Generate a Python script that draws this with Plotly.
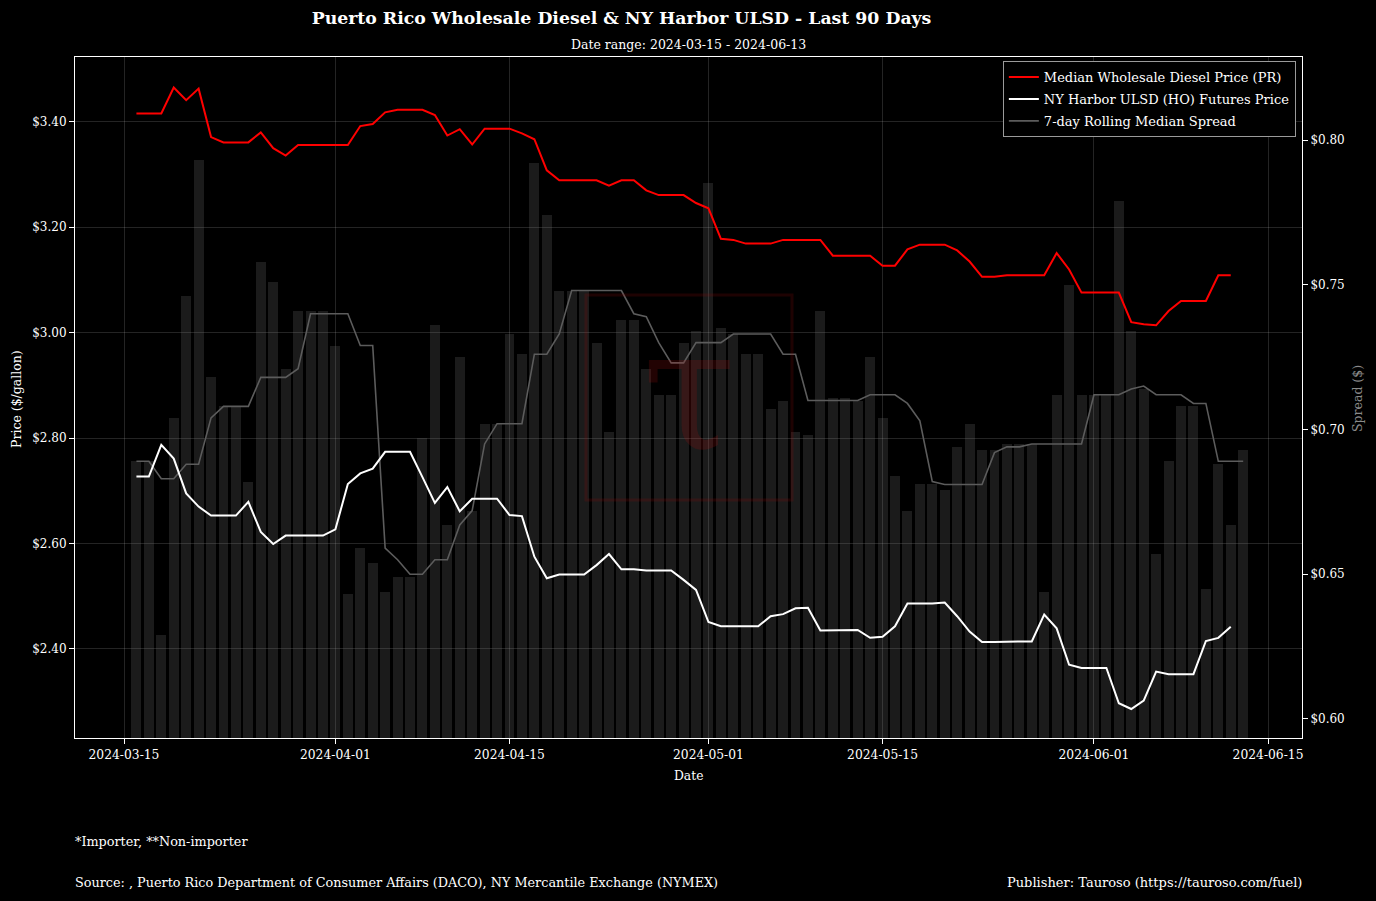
import pandas as pd
import plotly.graph_objects as go

# ---------------- data ----------------
line_start = "2024-03-16"
pr_price = [
    3.416, 3.416, 3.416, 3.465, 3.441, 3.463, 3.371, 3.361, 3.361, 3.361,
    3.380, 3.350, 3.336, 3.356, 3.356, 3.356, 3.356, 3.356, 3.392, 3.396,
    3.418, 3.423, 3.423, 3.423, 3.413, 3.374, 3.386, 3.357, 3.387, 3.387,
    3.387, 3.378, 3.367, 3.308, 3.289, 3.289, 3.289, 3.289, 3.279, 3.289,
    3.289, 3.270, 3.261, 3.261, 3.261, 3.246, 3.236, 3.178, 3.176, 3.169,
    3.169, 3.169, 3.176, 3.176, 3.176, 3.176, 3.146, 3.146, 3.146, 3.146,
    3.127, 3.127, 3.158, 3.167, 3.167, 3.167, 3.156, 3.135, 3.106, 3.106,
    3.109, 3.109, 3.109, 3.109, 3.151, 3.120, 3.076, 3.076, 3.076, 3.076,
    3.020, 3.016, 3.014, 3.041, 3.060, 3.060, 3.060, 3.109, 3.109,
]
ho_price = [
    2.727, 2.727, 2.787, 2.761, 2.695, 2.670, 2.653, 2.653, 2.653, 2.679,
    2.622, 2.599, 2.615, 2.615, 2.615, 2.615, 2.627, 2.713, 2.733, 2.742,
    2.774, 2.774, 2.774, 2.726, 2.677, 2.707, 2.661, 2.685, 2.685, 2.685,
    2.654, 2.652, 2.575, 2.534, 2.541, 2.541, 2.541, 2.559, 2.580, 2.551,
    2.551, 2.549, 2.549, 2.549, 2.531, 2.512, 2.451, 2.443, 2.443, 2.443,
    2.443, 2.462, 2.466, 2.477, 2.478, 2.435, 2.435, 2.435, 2.436, 2.421,
    2.423, 2.443, 2.486, 2.486, 2.486, 2.488, 2.462, 2.433, 2.413, 2.413,
    2.414, 2.414, 2.414, 2.465, 2.439, 2.370, 2.364, 2.364, 2.364, 2.297,
    2.286, 2.302, 2.357, 2.352, 2.352, 2.352, 2.415, 2.421, 2.442,
]
spread_start = "2024-03-16"
daily_spread = [
    0.689, 0.689, 0.629, 0.704, 0.746, 0.793, 0.718, 0.708, 0.708, 0.682,
    0.758, 0.751, 0.721, 0.741, 0.741, 0.741, 0.729, 0.643, 0.659, 0.654,
    0.644, 0.649, 0.649, 0.697, 0.736, 0.667, 0.725, 0.672, 0.702, 0.702,
    0.733, 0.726, 0.792, 0.774, 0.748, 0.748, 0.748, 0.730, 0.699, 0.738,
    0.738, 0.721, 0.712, 0.712, 0.730, 0.734, 0.785, 0.735, 0.733, 0.726,
    0.726, 0.707, 0.710, 0.699, 0.698, 0.741, 0.711, 0.711, 0.710, 0.725,
    0.704, 0.684, 0.672, 0.681, 0.681, 0.679, 0.694, 0.702, 0.693, 0.693,
    0.695, 0.695, 0.695, 0.644, 0.712, 0.750, 0.712, 0.712, 0.712, 0.779,
    0.734, 0.714, 0.657, 0.689, 0.708, 0.708, 0.645, 0.688, 0.667, 0.693,
]
rolling_spread = [
    0.689, 0.689, 0.683, 0.683, 0.688, 0.688, 0.704, 0.708, 0.708, 0.708,
    0.718, 0.718, 0.718, 0.721, 0.740, 0.740, 0.740, 0.740, 0.729, 0.729,
    0.659, 0.655, 0.650, 0.650, 0.655, 0.655, 0.667, 0.672, 0.695, 0.702,
    0.702, 0.702, 0.726, 0.726, 0.733, 0.748, 0.748, 0.748, 0.748, 0.748,
    0.740, 0.739, 0.730, 0.723, 0.723, 0.730, 0.730, 0.730, 0.733, 0.733,
    0.733, 0.733, 0.726, 0.726, 0.710, 0.710, 0.710, 0.710, 0.710, 0.712,
    0.712, 0.712, 0.709, 0.703, 0.682, 0.681, 0.681, 0.681, 0.681, 0.692,
    0.694, 0.694, 0.695, 0.695, 0.695, 0.695, 0.695, 0.712, 0.712, 0.712,
    0.714, 0.715, 0.712, 0.712, 0.712, 0.709, 0.709, 0.689, 0.689, 0.689,
]
x_tick_dates = ["2024-03-15", "2024-04-01", "2024-04-15", "2024-05-01",
                "2024-05-15", "2024-06-01", "2024-06-15"]
price_ticks = [2.40, 2.60, 2.80, 3.00, 3.20, 3.40]
spread_ticks = [0.60, 0.65, 0.70, 0.75, 0.80]

line_dates = pd.date_range(line_start, periods=len(pr_price), freq="D")
spread_dates = pd.date_range(spread_start, periods=len(daily_spread), freq="D")

FONT = "DejaVu Serif"
FG = "#ffffff"
GRID = "rgba(255,255,255,0.14)"

fig = go.Figure()

# bars + rolling spread on primary axis (right side), prices overlay on y2 (left side)
fig.add_trace(go.Bar(
    x=spread_dates, y=daily_spread, yaxis="y",
    marker=dict(color="rgba(128,128,128,0.21)", line=dict(width=0)),
    width=0.8 * 86400000, showlegend=False, hoverinfo="skip",
))
fig.add_trace(go.Scatter(
    x=line_dates, y=pr_price, yaxis="y2", mode="lines",
    line=dict(color="#ff0000", width=2), name="Median Wholesale Diesel Price (PR)",
    legendgroup="a", legendrank=1,
))
fig.add_trace(go.Scatter(
    x=line_dates, y=ho_price, yaxis="y2", mode="lines",
    line=dict(color="#ffffff", width=2), name="NY Harbor ULSD (HO) Futures Price",
    legendgroup="b", legendrank=2,
))
fig.add_trace(go.Scatter(
    x=spread_dates, y=rolling_spread, yaxis="y", mode="lines",
    line=dict(color="#5c5c5c", width=1.6), name="7-day Rolling Median Spread",
    legendgroup="c", legendrank=3,
))

fig.update_layout(
    width=1376, height=901,
    margin=dict(l=75, r=74, t=57, b=163),
    paper_bgcolor="#000000", plot_bgcolor="#000000",
    font=dict(family=FONT, color=FG, size=12),
    title=dict(text="Puerto Rico Wholesale Diesel & NY Harbor ULSD - Last 90 Days",
               x=621.5 / 1376, xanchor="center", xref="container",
               y=1 - 18 / 901, yanchor="middle", yref="container",
               font=dict(family=FONT, size=17.3, color=FG, weight="bold")),
    showlegend=True,
    legend=dict(x=0.995, y=0.994, xanchor="right", yanchor="top",
                bgcolor="#000000", bordercolor="#9a9a9a", borderwidth=1,
                font=dict(family=FONT, size=13, color=FG),
                traceorder="grouped", tracegroupgap=2),
    bargap=0,
    xaxis=dict(
        type="date",
        range=["2024-03-11 01:26", "2024-06-17 17:31"],
        tickvals=x_tick_dates, ticktext=x_tick_dates,
        showgrid=True, gridcolor=GRID, gridwidth=1,
        showline=True, linecolor=FG, linewidth=1, mirror=True,
        ticks="outside", ticklen=5, tickcolor=FG,
        tickfont=dict(family=FONT, size=12.3, color=FG),
        zeroline=False,
    ),
    yaxis=dict(
        side="right", range=[0.5934, 0.8287],
        tickvals=spread_ticks, ticktext=[f"${v:.2f}" for v in spread_ticks],
        showgrid=False, zeroline=False,
        showline=True, linecolor=FG, linewidth=1,
        ticks="outside", ticklen=5, tickcolor=FG,
        tickfont=dict(family=FONT, size=12, color=FG),
    ),
    yaxis2=dict(
        side="left", overlaying="y", range=[2.231, 3.523],
        tickvals=price_ticks, ticktext=[f"${v:.2f}" for v in price_ticks],
        showgrid=True, gridcolor=GRID, gridwidth=1, zeroline=False,
        showline=True, linecolor=FG, linewidth=1,
        ticks="outside", ticklen=5, tickcolor=FG,
        tickfont=dict(family=FONT, size=12, color=FG),
    ),
)

# watermark logo
fig.add_shape(type="rect", xref="paper", yref="paper",
              x0=(586 - 75) / 1227, x1=(792 - 75) / 1227,
              y0=1 - (500 - 57) / 681, y1=1 - (295 - 57) / 681,
              line=dict(color="rgba(150,10,10,0.2)", width=3), layer="above")
fig.add_annotation(text="τ", xref="paper", yref="paper",
                   x=(689 - 75) / 1227, y=1 - (390 - 57) / 681,
                   xanchor="center", yanchor="middle", showarrow=False,
                   font=dict(family=FONT, size=170, color="rgba(170,15,15,0.2)"))

# subtitle
fig.add_annotation(text="Date range: 2024-03-15 - 2024-06-13", xref="paper", yref="paper",
                   x=0.5, y=1 + 13 / 681, xanchor="center", yanchor="middle",
                   showarrow=False, font=dict(family=FONT, size=12.5, color=FG))
# axis titles
fig.add_annotation(text="Date", xref="paper", yref="paper",
                   x=0.5, y=-(776 - 738) / 681, xanchor="center", yanchor="middle",
                   showarrow=False, font=dict(family=FONT, size=12.3, color=FG))
fig.add_annotation(text="Price ($/gallon)", xref="paper", yref="paper",
                   x=-(75 - 16) / 1227, y=1 - (399 - 57) / 681, xanchor="center", yanchor="middle",
                   textangle=-90, showarrow=False, font=dict(family=FONT, size=12.5, color=FG))
fig.add_annotation(text="Spread ($)", xref="paper", yref="paper",
                   x=1 + (1357 - 1302) / 1227, y=1 - (399 - 57) / 681, xanchor="center", yanchor="middle",
                   textangle=-90, showarrow=False, font=dict(family=FONT, size=12.5, color="#8a8a8a"))
# footer
fig.add_annotation(text="*Importer, **Non-importer", xref="paper", yref="paper",
                   x=0, y=-(841 - 738) / 681, xanchor="left", yanchor="middle", xshift=-2,
                   showarrow=False, font=dict(family=FONT, size=12.8, color=FG))
fig.add_annotation(text="Source: , Puerto Rico Department of Consumer Affairs (DACO), NY Mercantile Exchange (NYMEX)",
                   xref="paper", yref="paper",
                   x=0, y=-(882 - 738) / 681, xanchor="left", yanchor="middle", xshift=-2,
                   showarrow=False, font=dict(family=FONT, size=12.8, color=FG))
fig.add_annotation(text="Publisher: Tauroso (https://tauroso.com/fuel)",
                   xref="paper", yref="paper",
                   x=1, y=-(882 - 738) / 681, xanchor="right", yanchor="middle", xshift=2,
                   showarrow=False, font=dict(family=FONT, size=13, color=FG))

fig.write_html("out.html")
